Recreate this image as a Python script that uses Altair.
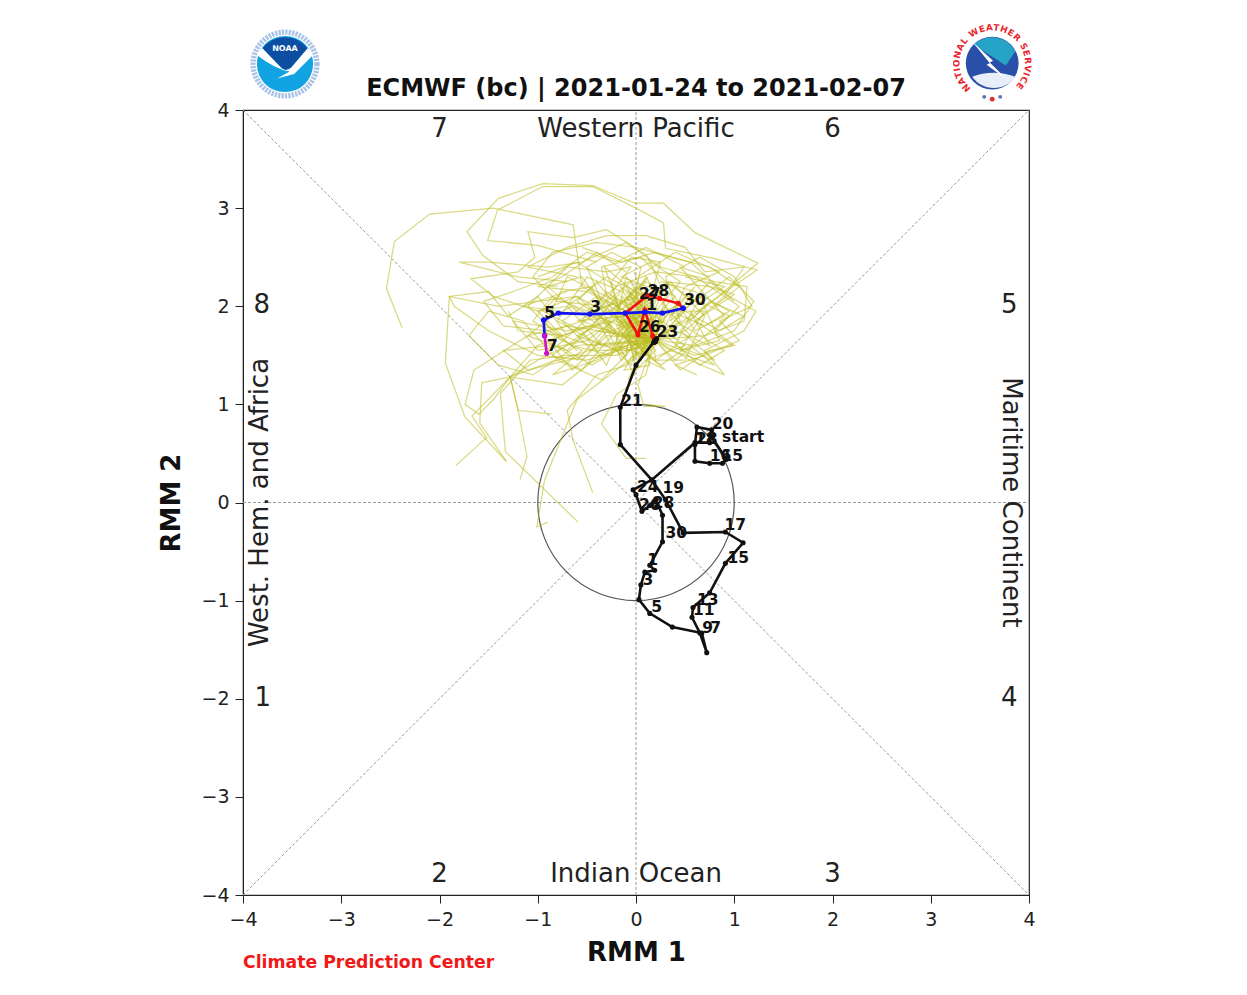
import urllib.parse
import altair as alt
import pandas as pd

TITLE = "ECMWF (bc) | 2021-01-24 to 2021-02-07"

observed = [(.77,.67),(.92,.44),(.88,.40),(.75,.40),(.60,.42),(.60,.59),(.62,.77),(.77,.74),(.75,.61),(.60,.61),
            (.16,.23),(-.03,.13),(0,.08),(.06,-.09),(.14,-.03),(.20,.03),(.27,-.13),(.27,-.40),(.14,-.64),(.19,-.69),
            (.09,-.71),(.05,-.84),(.03,-.99),(.14,-1.13),(.37,-1.27),(.67,-1.33),(.72,-1.53),(.65,-1.33),(.57,-1.17),
            (.58,-1.07),(.75,-.92),(.91,-.62),(1.09,-.41),(.91,-.30),(.48,-.31),(.30,.03),(.16,.23),(-.16,.59),
            (-.16,.97),(0,1.40),(.19,1.65),(.21,1.67),(.18,1.63),(.2,1.64)]
forecast_red = [(.18,1.63),(.17,1.70),(.09,1.96),(.02,1.71),(-.11,1.93),(.12,2.11),(.24,2.08),(.43,2.03),(.48,1.98)]
forecast_blue = [(.48,1.98),(.27,1.93),(.09,1.94),(-.11,1.93),(-.47,1.92),(-.79,1.93),(-.94,1.86),(-.93,1.70)]
forecast_magenta = [(-.93,1.70),(-.91,1.52)]

# Ensemble members, read by eye
ensemble = [
 [(.19,1.66),(-.1,1.95),(-.55,2.2),(-.64,2.83),(-1.45,3.0),(-2.10,2.94),(-2.46,2.66),(-2.54,2.18),(-2.38,1.78)],
 [(.19,1.66),(.6,1.9),(1.24,2.44),(.60,2.75),(.28,3.05),(-.01,3.05),(-.44,3.23),(-.95,3.25),(-1.40,3.10),(-1.72,2.76),(-1.56,2.52),(-1.2,2.25),(-.8,2.2)],
 [(.19,1.66),(.7,2.0),(1.23,2.37),(.78,2.49),(.3,2.59),(.28,2.85),(0,3.0),(-.44,3.22),(-.95,3.22),(-1.41,2.98),(-1.51,2.67),(-1.0,2.62),(-.4,2.45)],
 [(.19,1.66),(.3,2.1),(.11,2.52),(-.30,2.78),(-.64,2.7),(-1.1,2.76),(-1.03,2.5),(-1.2,2.35),(-1.68,2.28),(-1.45,2.1),(-1.0,1.95),(-.7,2.0)],
 [(.19,1.66),(-.5,1.8),(-1.0,1.6),(-1.28,1.28),(-1.67,.88),(-1.52,.66),(-1.59,.60),(-1.83,.38)],
 [(.19,1.66),(-.4,1.75),(-1.0,1.45),(-1.28,1.28),(-1.57,1.22),(-1.59,.81),(-1.32,.42)],
 [(.19,1.66),(-.3,1.6),(-.9,1.42),(-1.28,1.28),(-1.20,.94),(-1.11,.47),(-1.18,.23)],
 [(.19,1.66),(-.2,1.5),(-.7,1.5),(-1.08,1.45),(-1.38,1.11),(-1.33,.52),(-.59,-.20)],
 [(.19,1.66),(-.1,1.4),(-.4,1.3),(-.7,.94),(-.64,.63),(-.44,.10)],
 [(.19,1.66),(-.6,2.1),(-1.4,2.0),(-1.9,2.1),(-1.94,1.42),(-1.74,.87),(-1.32,.42)],
 [(.19,1.66),(-.3,1.55),(-.75,1.2),(-1.28,1.28),(-1.2,.94),(-.86,.90)],
 [(.19,1.66),(-.2,1.35),(-.6,1.05),(-.93,.23),(-1.01,-.25),(-.90,-.20)],
 [(.19,1.66),(.1,1.3),(-.2,1.1),(-.35,.8),(-.1,.45),(.1,.45),(-.1,.45)],
 [(.19,1.66),(.02,1.2),(.08,.98),(.3,.98),(.1,1.0)],
 [(.19,1.66),(-.7,1.8),(-1.1,1.7),(-1.65,1.35),(-1.74,1.0),(-1.6,.9),(-1.45,1.05),(-1.28,1.28)],
 [(.19,1.66),(-.5,1.45),(-1.0,1.5),(-1.5,1.75),(-1.85,2.0),(-1.9,2.1),(-1.5,2.15),(-1.3,1.9),(-1.0,2.1),(-.7,1.7)],
 [(.19,1.66),(.5,1.75),(.9,2.1),(1.1,2.4),(.7,2.35),(.5,2.6),(.1,2.72),(-.3,2.72),(-.7,2.6),(-1.1,2.4),(-.6,2.3)],
 [(.19,1.66),(.7,1.7),(1.1,1.85),(1.13,2.2),(.8,2.25),(.25,2.4),(-.1,2.65),(-.55,2.45),(-.9,2.4),(-1.5,2.45),(-1.8,2.45),(-1.2,2.3),(-.7,2.25)],
 [(.19,1.66),(.45,1.35),(.75,1.55),(1.0,1.6),(.8,1.75),(1.05,2.0),(.6,2.3),(.2,2.35),(-.2,2.2),(-.6,2.45),(-1.0,2.3)],
 [(.19,1.66),(.6,1.5),(.98,1.6),(.6,1.85),(1.0,2.12),(.75,2.2),(.3,2.25),(.05,2.5),(-.35,2.4),(-.3,2.1)],
 [(.19,1.66),(.1,1.8),(.4,2.1),(.1,2.25),(-.2,2.0),(-.4,2.25),(-.6,2.05),(-.3,1.85),(-.6,1.7),(-.2,1.55),(.05,1.75),(-.15,2.1),(.2,1.95)],
 [(.19,1.66),(.0,1.95),(.2,2.2),(.35,1.9),(.6,2.2),(.2,1.8),(.5,1.6),(.1,1.45),(.3,1.35),(0,1.6),(-.2,1.85),(-.1,2.3),(.15,2.05)],
 [(.19,1.66),(-.1,1.75),(-.3,2.05),(-.05,2.25),(.1,1.9),(-.2,1.6),(.1,1.5),(.25,1.8),(-.05,2.1),(-.35,1.9),(-.15,1.45),(.05,1.7),(.1,2.15)],
 [(.19,1.66),(.3,1.9),(.0,2.15),(-.25,1.95),(.05,1.6),(.35,1.7),(.15,2.0),(-.1,1.8),(.0,1.35),(.2,1.55),(-.1,1.95),(.1,2.3),(.3,2.0)],
 [(.19,1.66),(-.2,1.7),(-.6,1.95),(-.9,2.2),(-.55,2.3),(-.3,1.95),(-.7,1.55),(-1.1,1.7),(-.8,1.95),(-1.15,2.0),(-.7,2.15)],
 [(.19,1.66),(-.1,2.0),(-.5,1.75),(-.85,1.5),(-.55,1.35),(-.2,1.75),(-.6,2.1),(-1.0,1.95),(-.75,1.7),(-1.2,1.75),(-1.3,1.95)],
 [(.19,1.66),(.5,1.95),(.85,1.75),(1.1,1.9),(.75,2.05),(.45,1.75),(.8,1.45),(.4,1.6),(.6,2.0),(.9,2.2),(.5,2.3)],
 [(.19,1.66),(.4,1.45),(.7,1.7),(.95,1.9),(.55,2.1),(.3,1.7),(.65,1.4),(.9,1.55),(.4,1.85),(.75,2.25),(1.0,2.05)],
 [(.19,1.66),(.1,2.1),(-.3,2.3),(-.7,2.0),(-.35,1.6),(-.8,1.85),(-.5,2.3),(-.15,2.15),(-.45,1.8),(-.9,1.65),(-.6,1.45),(-.2,1.9)],
 [(.19,1.66),(-.05,1.55),(-.45,1.55),(-.75,1.85),(-.4,2.1),(-.05,1.85),(-.25,1.5),(-.65,1.6),(-1.05,1.85),(-.85,2.1),(-.5,1.95),(-.2,2.2)],
 [(.19,1.66),(.3,2.0),(.55,1.7),(.2,1.45),(.5,1.45),(.7,1.9),(.35,2.25),(.05,2.0),(.4,1.75),(.75,1.6),(.55,1.95)],
 [(.19,1.66),(.05,1.9),(-.15,1.7),(.1,1.55),(.05,1.95),(-.1,2.15),(.15,1.85),(-.05,1.65),(.2,1.45),(.15,1.8),(-.2,1.95),(0,2.2),(.05,1.8)],
 [(.19,1.66),(.15,1.95),(-.05,1.85),(-.1,1.5),(.1,1.75),(.25,2.1),(0,1.95),(-.15,1.75),(.05,1.45),(.1,1.65),(-.1,2.05),(.2,2.2),(.1,1.9)],
 [(.19,1.66),(0,1.75),(.15,1.55),(-.1,1.65),(-.05,2.0),(.12,2.3),(-.12,2.05),(.08,1.7),(-.18,1.55),(.02,1.85),(.2,1.75),(-.02,2.35)],
 [(.19,1.66),(-.4,1.9),(-.85,1.75),(-1.1,2.0),(-.7,2.4),(-.3,2.35),(-.05,2.4),(-.35,2.0),(-.8,1.6),(-.45,1.4),(-.1,1.6)],
 [(.19,1.66),(.6,1.6),(1.0,1.75),(1.2,2.05),(.95,2.3),(.6,2.05),(.3,2.25),(.6,1.75),(.9,1.9),(.45,2.4),(.75,2.3)],
 [(.19,1.66),(-.2,1.85),(-.7,1.75),(-1.25,1.85),(-1.0,1.55),(-.5,1.65),(-.1,1.95),(-.5,2.15),(-1.0,2.2),(-.75,2.3),(-.4,2.55),(-.1,2.35)],
 [(.19,1.66),(.35,1.55),(.8,1.4),(.55,1.6),(.25,1.4),(.05,1.55),(.35,1.95),(.7,1.8),(.95,1.95),(.6,2.15),(.25,2.25)],
 [(.19,1.66),(-.3,1.7),(-.65,1.35),(-.85,1.6),(-1.35,1.55),(-1.1,1.35),(-.5,1.5),(-.25,1.8),(-.65,2.0),(-.95,1.85),(-.6,1.55)],
 [(.19,1.66),(.2,1.95),(.45,2.25),(.15,2.45),(-.15,2.3),(.25,2.15),(.1,1.85),(.4,2.0),(.2,1.6),(-.05,1.75),(.3,1.85)],
 [(.19,1.66),(.0,1.6),(-.3,1.8),(-.15,2.05),(-.45,1.95),(-.25,1.6),(-.05,1.4),(.1,1.85),(-.3,2.15),(-.55,1.85),(-.15,1.7)],
 [(.19,1.66),(-.15,1.85),(-.25,2.25),(-.05,2.5),(.25,2.45),(.15,2.1),(-.12,2.0),(-.2,1.65),(-.02,1.3),(.08,1.6),(-.08,1.9)],
 [(.19,1.66),(-.02,2.05),(.05,2.4),(-.25,2.55),(-.5,2.4),(-.35,2.05),(-.08,1.75),(-.02,1.45),(.12,1.8),(-.1,2.2),(.06,2.0)],
 [(.19,1.66),(.45,1.85),(.3,2.3),(.65,2.5),(1.0,2.3),(1.18,2.0),(.85,1.85),(1.05,1.65),(.7,1.5),(.4,1.4),(.62,1.3)],
 [(.19,1.66),(-.35,2.0),(-.8,2.05),(-1.05,2.3),(-.85,2.55),(-.4,2.65),(0,2.6),(.35,2.5),(.75,2.4),(1.05,2.2),(.8,2.0)],
 [(.19,1.66),(-.45,1.6),(-.9,1.75),(-1.35,1.8),(-1.55,2.05),(-1.25,2.15),(-.85,2.3),(-.5,2.55),(-.2,2.45),(.1,2.6),(.5,2.4)],
 [(.19,1.66),(.55,1.45),(.9,1.3),(.7,1.55),(1.1,1.75),(1.22,1.95),(.95,2.1),(.55,2.45),(.2,2.55),(-.15,2.45),(-.55,2.6)],
 [(.19,1.66),(-.6,1.6),(-1.05,1.3),(-1.4,1.4),(-1.7,1.7),(-1.5,1.95),(-1.15,1.85),(-.8,1.45),(-.35,1.25),(-.1,1.5),(-.4,1.65)],
 [(.19,1.66),(.02,1.85),(-.25,1.75),(-.45,2.2),(-.75,2.15),(-.95,1.95),(-.55,1.75),(-.3,1.4),(-.12,1.85),(-.32,2.4),(-.02,2.15)],
 [(.19,1.66),(.25,1.95),(.7,1.95),(.45,1.55),(.85,1.65),(.65,2.1),(.35,1.85),(.5,2.2),(.85,2.35),(.4,2.55),(.02,2.3)],
 [(.19,1.66),(-.1,1.9),(-.6,1.85),(-.2,2.05),(-.7,2.3),(-.95,1.75),(-.55,1.55),(-.85,1.3),(-.4,1.45),(-.15,1.6),(-.3,1.9)],
 [(.19,1.66),(.1,1.5),(-.05,1.7),(.2,1.85),(-.08,1.95),(.02,1.6),(-.12,1.35),(.14,1.4),(.08,1.95),(-.14,1.85),(.18,1.7)],
 [(.19,1.66),(-.08,1.8),(.06,2.05),(-.16,2.2),(.02,1.9),(-.2,1.8),(.04,1.5),(-.08,1.25),(.1,1.6),(-.04,2.0),(.16,2.15)],
 [(.19,1.66),(.02,1.62),(-.14,1.9),(.08,2.1),(-.02,1.72),(.16,1.6),(-.1,1.55),(.02,1.98),(-.24,2.1),(-.06,1.78),(.12,1.9)],
]

# Point labels (text, RMM1, RMM2)
day_labels = [("start",1.09,.67),("20",.88,.80),("16",.86,.47),("15",.98,.47),("18",.71,.65),("28",.72,.65),
              ("24",.12,.16),("19",.38,.15),("26",.14,-.03),("28",.28,-.01),("30",.41,-.31),("17",1.01,-.23),
              ("15",1.04,-.57),("1",.17,-.59),("3",.12,-.79),("5",.21,-1.06),("13",.73,-.99),("11",.69,-1.10),
              ("9",.73,-1.28),("7",.81,-1.28),("21",-.04,1.03),("23",.32,1.74),("26",.14,1.79),("28",.23,2.16),
              ("27",.14,2.12),("30",.60,2.06),("1",.16,2.01),("3",-.41,1.99),("5",-.88,1.93),("7",-.85,1.59)]

region_labels = [("7",-2,3.81),("6",2,3.81),("8",-3.81,2.01),("5",3.8,2.01),("1",-3.8,-1.99),("4",3.8,-1.99),
                 ("2",-2,-3.79),("3",2,-3.79),("Western Pacific",0,3.81),("Indian Ocean",0,-3.79)]
side_labels = [("West. Hem. and Africa",-3.83,0,270),("Maritime Continent",3.82,0,90)]
credit = [("Climate Prediction Center",-4,-4.69)]
title_row = [(TITLE,0,4.21)]

guide_segments = [(-4,-4,4,4),(-4,4,4,-4),(0,-4,0,4),(-4,0,4,0)]

NOAA_SVG = """<svg xmlns='http://www.w3.org/2000/svg' width='100' height='100' viewBox='0 0 100 100'>
<circle cx='50' cy='50' r='49' fill='white'/>
<circle cx='50' cy='50' r='42' fill='none' stroke='#6f9bd6' stroke-width='7' stroke-dasharray='3 1.5' opacity='.6'/>
<circle cx='50' cy='50' r='37' fill='#12a4e2'/>
<path d='M20 30 A37 37 0 0 1 80 30 L58 55 Q52 60 46 56 Z' fill='#0b4ea2'/>
<path d='M13 38 L20 29 L46 56 Q52 60 58 55 L80 29 L87 38 L62 63 L40 69 L56 60 Q36 56 13 38 Z' fill='white'/>
<text x='50' y='33' font-family='DejaVu Sans' font-weight='bold' font-size='10.5' fill='white' text-anchor='middle'>NOAA</text>
</svg>"""

NWS_SVG = """<svg xmlns='http://www.w3.org/2000/svg' width='100' height='100' viewBox='0 0 100 100'>
<defs><path id='r' d='M22.6 80.4 A41 41 0 1 1 75.4 80.4'/></defs>
<circle cx='49' cy='49' r='33' fill='#2a4fa8'/>
<path d='M26 26 A33 33 0 0 1 78 34 L66 52 Z' fill='#25a4c7'/>
<path d='M24 66 Q50 56 78 66 A33 33 0 0 1 24 66 Z' fill='#e8eef8'/>
<path d='M24 22 L50 46 L46 48 L68 70 L42 51 L46 49 Z' fill='white'/>
<text font-family='DejaVu Sans' font-weight='bold' font-size='11' fill='#e8262b'>
<textPath href='#r' textLength='196' lengthAdjust='spacing'>NATIONAL WEATHER SERVICE</textPath></text>
<circle cx='39' cy='91' r='2.4' fill='#5a6fb8'/><circle cx='49' cy='94' r='3' fill='#e8262b'/><circle cx='59' cy='91' r='2.4' fill='#5a6fb8'/>
</svg>"""


def uri(svg):
    return "data:image/svg+xml," + urllib.parse.quote(svg)


def frame(points):
    return pd.DataFrame([{"x": p[0], "y": p[1], "i": i} for i, p in enumerate(points)])


SC = alt.Scale(domain=[-4, 4], nice=False)
X = alt.X("x:Q", scale=SC, title="RMM 1",
          axis=alt.Axis(values=list(range(-4, 5)), format="d", grid=False, labelFontSize=19, labelColor="#222",
                        tickColor="#222", domainColor="#222", tickSize=8, labelPadding=7, titleFontSize=26,
                        titleFontWeight="bold", titleColor="#111", titlePadding=10, labelFlush=False))
Y = alt.Y("y:Q", scale=SC, title="RMM 2",
          axis=alt.Axis(values=list(range(-4, 5)), format="d", grid=False, labelFontSize=19, labelColor="#222",
                        tickColor="#222", domainColor="#222", tickSize=8, labelPadding=6, titleFontSize=26,
                        titleFontWeight="bold", titleColor="#111", titlePadding=16, labelFlush=False))
O = alt.Order("i:Q")
XP = alt.X("x:Q", scale=SC)
YP = alt.Y("y:Q", scale=SC)

guides = pd.DataFrame(guide_segments, columns=["x", "y", "x2", "y2"])
layers = [
    alt.Chart(guides).mark_rule(color="#999", strokeWidth=1, strokeDash=[3, 2]).encode(
        x=X, y=Y, x2="x2:Q", y2="y2:Q"),
    alt.Chart(pd.DataFrame({"x": [0], "y": [0]})).mark_point(
        shape="circle", size=38573, filled=False, color="#555", strokeWidth=1.2, opacity=1).encode(x=XP, y=YP),
]

ens = pd.concat([frame(m).assign(member=k) for k, m in enumerate(ensemble)])
layers.append(alt.Chart(ens).mark_line(color="#bcbc20", opacity=0.55, strokeWidth=1.25).encode(
    x=XP, y=YP, detail="member:N", order=O))

for pts, col, w, s in [(forecast_red, "#f01010", 2.6, 26), (forecast_blue, "#1414f0", 2.6, 30),
                       (forecast_magenta, "#d010c8", 2.6, 26), (observed, "#111", 2.6, 26)]:
    f = frame(pts)
    layers.append(alt.Chart(f).mark_line(color=col, strokeWidth=w).encode(x=XP, y=YP, order=O))
    layers.append(alt.Chart(f).mark_circle(color=col, size=s, opacity=1).encode(x=XP, y=YP))

T = alt.Text("t:N")
dl = pd.DataFrame(day_labels, columns=["t", "x", "y"])
layers.append(alt.Chart(dl).mark_text(font="DejaVu Sans", fontSize=15.5, fontWeight="bold", color="#111",
                                      baseline="middle").encode(x=XP, y=YP, text=T))
rl = pd.DataFrame(region_labels, columns=["t", "x", "y"])
layers.append(alt.Chart(rl).mark_text(font="DejaVu Sans", fontSize=26, color="#222", baseline="middle").encode(
    x=XP, y=YP, text=T))
for t, x, y, ang in side_labels:
    layers.append(alt.Chart(pd.DataFrame({"t": [t], "x": [x], "y": [y]})).mark_text(
        font="DejaVu Sans", fontSize=26, color="#222", baseline="middle", angle=ang).encode(x=XP, y=YP, text=T))
cr = pd.DataFrame(credit, columns=["t", "x", "y"])
layers.append(alt.Chart(cr).mark_text(font="DejaVu Sans", fontSize=17.3, fontWeight="bold", color="#f01818",
                                      align="left", baseline="middle").encode(x=XP, y=YP, text=T))
tr = pd.DataFrame(title_row, columns=["t", "x", "y"])
layers.append(alt.Chart(tr).mark_text(font="DejaVu Sans", fontSize=24, fontWeight="bold", color="#111",
                                      baseline="middle").encode(x=XP, y=YP, text=T))
layers.append(alt.Chart(pd.DataFrame({"u": [uri(NOAA_SVG)]})).mark_image(
    width=76, height=76, align="left", baseline="top").encode(x=alt.value(4), y=alt.value(-84), url="u:N"))
layers.append(alt.Chart(pd.DataFrame({"u": [uri(NWS_SVG)]})).mark_image(
    width=80, height=80, align="left", baseline="top").encode(x=alt.value(710), y=alt.value(-86), url="u:N"))

chart = alt.layer(*layers).properties(
    width=786, height=785,
    autosize=alt.AutoSizeParams(type="none"),
    padding={"left": 235, "top": 102, "right": 190, "bottom": 85},
).configure_view(stroke="#222", strokeWidth=1.2).configure_axis(
    titleFont="DejaVu Sans", labelFont="DejaVu Sans")

chart.save("out.html", embed_options={"renderer": "svg", "actions": False})
